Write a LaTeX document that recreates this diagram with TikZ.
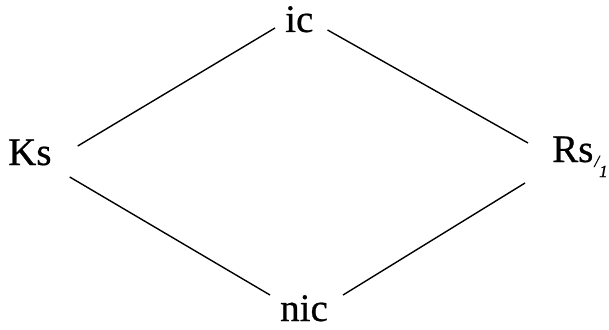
\documentclass[tikz,border=0pt]{standalone}
\usepackage{fontspec}
\setmainfont{Liberation Serif}
\newfontfamily\lblfont[FakeBold=0.6]{Liberation Serif}
\begin{document}
\begin{tikzpicture}[x=1pt,y=-1pt,
  lbl/.style={inner sep=0pt,font=\lblfont\fontsize{39}{42}\selectfont},
  edge/.style={line width=1.4pt}]
\useasboundingbox (0,0) rectangle (609,329);
\node[lbl,anchor=base west] (ks) at (8,165) {Ks};
\node[lbl,anchor=base west] (ic) at (285,32) {ic};
\node[lbl,anchor=base west] (nic) at (280,321) {nic};
\node[lbl,anchor=base west] (rs) at (552,162) {Rs\kern1pt\raisebox{-5pt}{\fontsize{17}{17}\selectfont\itshape /}\raisebox{-15pt}{\fontsize{17}{17}\selectfont\itshape 1}};
\draw[edge] ([shift={(26,-19)}]ks.base east) -- ([shift={(-10,-4)}]ic.base west);
\draw[edge] ([shift={(14,-2)}]ic.base east) -- ([shift={(-24,-19)}]rs.base west);
\draw[edge] ([shift={(18,12)}]ks.base east) -- ([shift={(-10,-26)}]nic.base west);
\draw[edge] ([shift={(15,-26)}]nic.base east) -- ([shift={(-27,21)}]rs.base west);
\end{tikzpicture}
\end{document}
